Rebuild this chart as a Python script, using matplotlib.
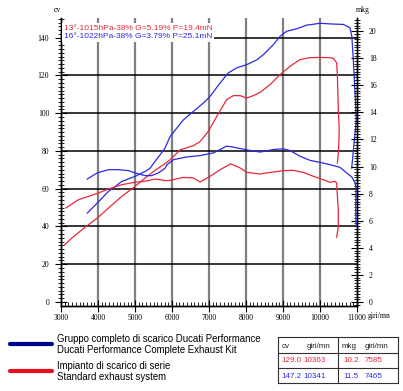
import numpy as np
import matplotlib
matplotlib.use("Agg")
import matplotlib.pyplot as plt
from matplotlib.lines import Line2D
from matplotlib.ticker import MultipleLocator

W, H = 403, 391

# standard exhaust (red)
std_cv_rpm = [3100, 3300, 3650, 3980, 4280, 4640, 5000, 5270, 5540, 5810, 5950, 6220, 6580, 6760,
              6980, 7210, 7480, 7660, 7840, 8020, 8200, 8380, 8650, 8920, 9190, 9460, 9730, 10000,
              10270, 10363, 10450, 10470, 10495, 10520, 10500, 10470]
std_cv = [30.2, 34, 39.6, 44.4, 49.7, 55.9, 61.2, 65.6, 69.7, 73.2, 75.3, 80.6, 82.8, 85,
          90.3, 98.3, 107.2, 109.3, 109.3, 108, 109.3, 111, 115.1, 120.4, 124.8, 128.4, 129.4, 129.5,
          129.4, 129.0, 126.6, 119.5, 101.9, 91.2, 80, 73.6]
std_mkg_rpm = [3135, 3470, 3740, 4010, 4280, 4640, 5000, 5270, 5540, 5810, 5950, 6300, 6580, 6760,
               7030, 7300, 7585, 7840, 8020, 8380, 8560, 9010, 9280, 9550, 9820, 10090, 10270, 10400,
               10450, 10470, 10495, 10495, 10450]
std_mkg = [6.95, 7.55, 7.8, 8.05, 8.34, 8.66, 8.84, 8.91, 9.08, 8.96, 8.98, 9.2, 9.16, 8.86,
           9.28, 9.77, 10.2, 9.9, 9.57, 9.45, 9.53, 9.7, 9.72, 9.57, 9.28, 9.03, 8.83, 8.91,
           8.79, 7.8, 6.81, 5.57, 4.79]

# Ducati Performance kit (blue)
kit_cv_rpm = [3710, 3980, 4280, 4640, 5000, 5270, 5410, 5540, 5680, 5810, 5950, 6310, 6580, 6850,
              7030, 7300, 7520, 7750, 8020, 8290, 8470, 8740, 8920, 9100, 9370, 9640, 10000, 10341,
              10630, 10810, 10860, 10900, 10930, 10960, 10980, 10920, 10857]
kit_cv = [47.1, 52.4, 58.5, 63.8, 66.5, 69.1, 70.9, 74.4, 78, 81.5, 87.7, 96.5, 101, 105.4,
          108.9, 116, 121.3, 124, 125.7, 128.2, 131, 136.3, 140.7, 143.4, 144.7, 146.6, 147.6, 147.2,
          147, 145.2, 140.7, 128.4, 116.9, 105, 96.5, 84, 70.9]
kit_mkg_rpm = [3710, 3980, 4280, 4550, 4820, 5000, 5270, 5450, 5630, 5810, 5860, 6040, 6400, 6760,
               7120, 7390, 7465, 7570, 7840, 8110, 8380, 8740, 9010, 9190, 9460, 9730, 10000, 10270,
               10540, 10720, 10860, 10950, 10975, 10965, 10975]
kit_mkg = [9.08, 9.53, 9.77, 9.77, 9.7, 9.53, 9.33, 9.33, 9.53, 9.87, 10.12, 10.51, 10.71, 10.81,
           11.01, 11.38, 11.5, 11.48, 11.33, 11.19, 11.07, 11.26, 11.31, 11.18, 10.76, 10.46, 10.31, 10.14,
           9.94, 9.53, 9.23, 8.79, 8.29, 7.31, 5.57]

cond_std = "13°-1015hPa-38% G=5.19% P=19.4mN"
cond_kit = "16°-1022hPa-38% G=3.79% P=25.1mN"
legend_kit = ["Gruppo completo di scarico Ducati Performance", "Ducati Performance Complete Exhaust Kit"]
legend_std = ["Impianto di scarico di serie", "Standard exhaust system"]
table_head = ["cv", "giri/mn", "mkg", "giri/mn"]
table_std = ["129.0", "10363", "10.2", "7585"]
table_kit = ["147.2", "10341", "11.5", "7465"]

RED = "#e8283c"
BLUE = "#2a2ae6"
SERIF = "Liberation Serif"
SANS = "Liberation Sans"


def fx(x):
    return x / W


def fy(y):
    return 1 - y / H


fig = plt.figure(figsize=(W / 100, H / 100), dpi=100)
ax = fig.add_axes([fx(61), fy(305.5), fx(357) - fx(61), fy(18) - fy(305.5)])
ax2 = ax.twinx()

ax.set_xlim(3000, 11000)
ax.set_ylim(-1.85, 150.4)
ax2.set_ylim(-0.26, 20.97)

for a in (ax, ax2):
    a.spines["top"].set_visible(False)
    for s in a.spines.values():
        s.set_linewidth(1.0)

# grid
for r in range(4000, 11000, 1000):
    ax.axvline(r, color="#808080", lw=1.6, zorder=1)
for c in range(20, 150, 20):
    ax.axhline(c, color="black", lw=1.1, zorder=1)

ax.xaxis.set_major_locator(MultipleLocator(1000))
ax.xaxis.set_minor_locator(MultipleLocator(100))
ax.yaxis.set_major_locator(MultipleLocator(20))
ax.yaxis.set_minor_locator(MultipleLocator(2))
ax2.yaxis.set_major_locator(MultipleLocator(2))
ax2.yaxis.set_minor_locator(MultipleLocator(0.2))
ax.set_yticks(range(0, 141, 20))

ax.tick_params(axis="x", which="major", direction="inout", length=8, width=0.8, pad=2, labelsize=5.5)
ax.tick_params(axis="x", which="minor", direction="in", length=3, width=0.6)
ax.tick_params(axis="y", which="major", direction="inout", length=9, width=0.8, pad=4, labelsize=5.5)
ax.tick_params(axis="y", which="minor", direction="inout", length=4, width=0.6)
ax2.tick_params(axis="y", which="major", direction="inout", length=9, width=0.8, pad=4, labelsize=5.5)
ax2.tick_params(axis="y", which="minor", direction="inout", length=4, width=0.6)
for lab in ax.get_xticklabels() + ax.get_yticklabels() + ax2.get_yticklabels():
    lab.set_family(SERIF)

ax.plot(std_cv_rpm, std_cv, color=RED, lw=0.9, zorder=3)
ax2.plot(std_mkg_rpm, std_mkg, color=RED, lw=0.9, zorder=3)
ax.plot(kit_cv_rpm, kit_cv, color=BLUE, lw=0.9, zorder=3)
ax2.plot(kit_mkg_rpm, kit_mkg, color=BLUE, lw=0.9, zorder=3)

# axis captions
fig.text(fx(57), fy(10), "cv", family=SERIF, fontsize=5.5, ha="center", va="center")
fig.text(fx(363), fy(10), "mkg", family=SERIF, fontsize=5.5, ha="center", va="center")
fig.text(fx(368), fy(316), "giri/mn", family=SERIF, fontsize=5.5, ha="left", va="center")

# test conditions, on a white patch that hides the grid
box = dict(facecolor="white", edgecolor="none", pad=1.2)
fig.text(fx(64), fy(28), cond_std, family=SANS, fontsize=6, color=RED, va="center", bbox=box)
fig.text(fx(64), fy(37), cond_kit, family=SANS, fontsize=6, color=BLUE, va="center", bbox=box)

# legend
fig.add_artist(Line2D([fx(10), fx(52)], [fy(344), fy(344)], color="#000090", lw=3, solid_capstyle="round"))
fig.add_artist(Line2D([fx(10), fx(52)], [fy(371), fy(371)], color="#e81020", lw=3, solid_capstyle="round"))
fig.text(fx(57), fy(339), legend_kit[0], family=SANS, fontsize=6.9, va="center")
fig.text(fx(57), fy(350), legend_kit[1], family=SANS, fontsize=6.9, va="center")
fig.text(fx(57), fy(366), legend_std[0], family=SANS, fontsize=6.9, va="center")
fig.text(fx(57), fy(377), legend_std[1], family=SANS, fontsize=6.9, va="center")

# peak table
def hline(x0, x1, y):
    fig.add_artist(Line2D([fx(x0), fx(x1)], [fy(y), fy(y)], color="#303030", lw=0.8))


def vline(x, y0, y1):
    fig.add_artist(Line2D([fx(x), fx(x)], [fy(y0), fy(y1)], color="#303030", lw=0.8))


for yy in (337, 353, 368, 383):
    hline(278, 398, yy)
for xx in (278, 338, 398):
    vline(xx, 337, 383)

cols = [281.5, 303.5, 343, 365]
for txt, xx in zip(table_head, [281.5, 307, 341.5, 365]):
    fig.text(fx(xx), fy(346), txt, family=SANS, fontsize=5.8, color="#202020", va="center")
for txt, xx in zip(table_std, cols):
    fig.text(fx(xx), fy(361), txt, family=SANS, fontsize=5.8, color=RED, va="center")
for txt, xx in zip(table_kit, cols):
    fig.text(fx(xx), fy(376.5), txt, family=SANS, fontsize=5.8, color=BLUE, va="center")

fig.savefig("out.png", dpi=100)
